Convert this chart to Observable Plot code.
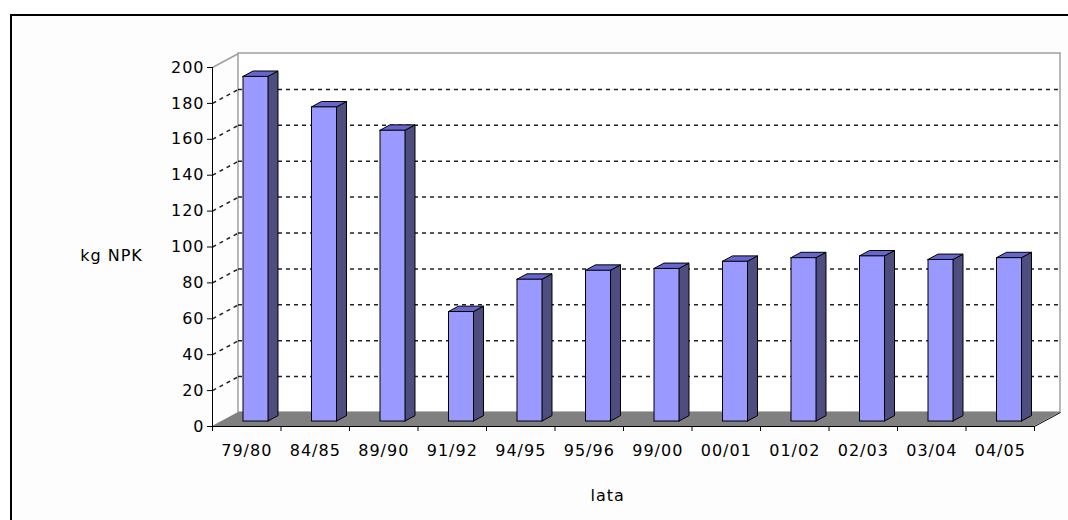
<!DOCTYPE html>
<html><head><meta charset="utf-8">
<script src="https://cdn.jsdelivr.net/npm/d3@7"></script>
<script src="https://cdn.jsdelivr.net/npm/@observablehq/plot@0.6"></script>
<style>html,body{margin:0;padding:0;background:#fff;}</style>
</head><body><div id="chart"></div>
<script>
const categories = ["79/80","84/85","89/90","91/92","94/95","95/96","99/00","00/01","01/02","02/03","03/04","04/05"];
const values = [192, 175, 162, 61, 79, 84, 85, 89, 91, 92, 90, 91];
const yTicks = [0,20,40,60,80,100,120,140,160,180,200];
const yTitle = "kg NPK";
const xTitle = "lata";

const W = 1068, H = 520, mL = 212, mR = 34, mT = 67, mB = 94;
const n = categories.length, yMax = 200;
const ux = (W - mL - mR) / n;       // px per category
const uy = (H - mT - mB) / yMax;    // px per unit
const DX = 26 / ux, DY = 14 / uy;   // full depth, data units
const t0 = 0.356, t1 = 0.74, half = 12.5 / ux;
const dd = t1 - t0;

const bars = values.map((v, i) => {
  const cx = i + 0.5 + t0 * DX;
  return {i, v, xl: cx - half, xr: cx + half, yb: t0 * DY, yt: v + t0 * DY};
});
const sides = bars.flatMap(b => [
  {z: b.i, x: b.xr, y1: b.yb, y2: b.yt},
  {z: b.i, x: b.xr + dd * DX, y1: b.yb + dd * DY, y2: b.yt + dd * DY}
]);
const tops = bars.flatMap(b => [
  {z: b.i, y: b.yt, x1: b.xl, x2: b.xr},
  {z: b.i, y: b.yt + dd * DY, x1: b.xl + dd * DX, x2: b.xr + dd * DX}
]);
const grid = yTicks.filter(v => v > 0 && v < yMax);
const dash = "4,4";

const chart = Plot.plot({
  width: W, height: H,
  marginLeft: mL, marginRight: mR, marginTop: mT, marginBottom: mB,
  style: {fontFamily: "DejaVu Sans, sans-serif", fontSize: "16px", letterSpacing: "1px", background: "transparent", overflow: "visible", color: "#000"},
  x: {domain: [0, n], axis: null},
  y: {domain: [0, yMax], axis: null},
  marks: [
    // back wall
    Plot.rect([0], {x1: DX, x2: n + DX, y1: DY, y2: yMax + DY, fill: "white", stroke: "#a0a0a0", strokeWidth: 1.5}),
    // left wall top edge
    Plot.link([0], {x1: 0, y1: yMax, x2: DX, y2: yMax + DY, stroke: "#a0a0a0", strokeWidth: 1.5}),
    // gridlines
    Plot.ruleY(grid, {y: v => v + DY, x1: DX, x2: n + DX, stroke: "#222", strokeDasharray: dash, strokeWidth: 1.5}),
    Plot.link(grid, {x1: 0, y1: v => v, x2: DX, y2: v => v + DY, stroke: "#222", strokeDasharray: dash, strokeWidth: 1.5}),
    // floor
    Plot.area([{y: 0, x1: 0, x2: n}, {y: DY, x1: DX, x2: n + DX}], {y1: "y", x1: "x1", x2: "x2", fill: "#808080"}),
    Plot.link([0], {x1: n, y1: 0, x2: n + DX, y2: DY, stroke: "black"}),
    // bars
    Plot.area(sides, {x1: "x", y1: "y1", y2: "y2", z: "z", fill: "#4D4D80", stroke: "black", strokeWidth: 1}),
    Plot.area(tops, {y1: "y", x1: "x1", x2: "x2", z: "z", fill: "#6666CC", stroke: "black", strokeWidth: 1}),
    Plot.rect(bars, {x1: "xl", x2: "xr", y1: "yb", y2: "yt", fill: "#9999FF", stroke: "black", strokeWidth: 1}),
    // axes
    Plot.ruleX([0], {y1: 0, y2: yMax, stroke: "black"}),
    Plot.ruleY([0], {x1: 0, x2: n, stroke: "black"}),
    Plot.axisY({ticks: yTicks, tickSize: 5, tickPadding: 3, label: null, fontSize: 16}),
    Plot.axisX({ticks: d3.range(0, n + 1), tickSize: 5, tickFormat: () => "", label: null}),
    Plot.text(categories, {x: (d, i) => i + 0.5, y: 0, dy: 24, text: d => d, fontSize: 16}),
    // titles
    Plot.text([yTitle], {frameAnchor: "left", y: 95, dx: -101, textAnchor: "middle", fontSize: 16, ariaLabel: "y-title"}),
    Plot.text([xTitle], {frameAnchor: "bottom", x: 5.77, dy: 74, textAnchor: "middle", fontSize: 16, ariaLabel: "x-title"})
  ]
});
d3.select(chart).select('g[aria-label="y-title"]').style("letter-spacing", "0.4px");
d3.select(chart).select('g[aria-label="x-title"]').style("letter-spacing", "2.5px");
d3.select(chart).insert("rect", ":first-child")
  .attr("x", 11).attr("y", 15).attr("width", 1200).attr("height", 700)
  .attr("fill", "#fdfdfd").attr("stroke", "black").attr("stroke-width", 2);
document.getElementById("chart").append(chart);
</script>
</body></html>
